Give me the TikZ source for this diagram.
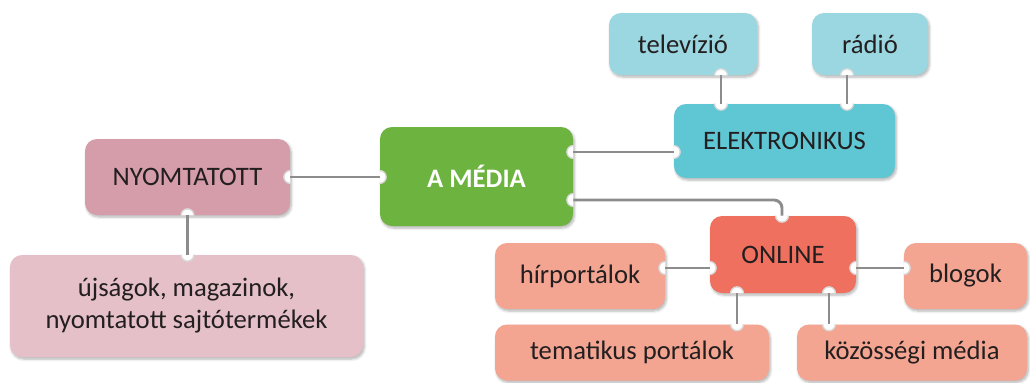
\documentclass[tikz,border=0pt]{standalone}
\usepackage{fontspec}
\setmainfont{Carlito}
\usetikzlibrary{calc,shadows.blur}
\definecolor{txt}{HTML}{231F20}
\definecolor{cgreen}{HTML}{6DB33F}
\definecolor{celek}{HTML}{5FC6D3}
\definecolor{celekl}{HTML}{9BD7E1}
\definecolor{cnyom}{HTML}{D59CAA}
\definecolor{cnyoml}{HTML}{E5C0C8}
\definecolor{conl}{HTML}{EF705F}
\definecolor{conll}{HTML}{F4A592}
\definecolor{cline}{HTML}{8C8C8C}
\newcommand\mynotch[2]{%
  \begin{scope}
    \clip[rounded corners=9pt] (#1.south west) rectangle (#1.north east);
    \fill[white, draw=black!15, line width=1pt] (#2) circle[radius=4.8pt];
  \end{scope}}
\begin{document}
\begin{tikzpicture}[x=0.75pt,y=-0.75pt,
  box/.style 2 args={rectangle, rounded corners=9pt, inner sep=0pt,
    minimum width=#1*0.75pt, minimum height=#2*0.75pt, text=txt,
    font=\fontsize{20}{24}\selectfont, align=center,
    blur shadow={shadow xshift=1pt, shadow yshift=-1.5pt, shadow blur steps=6, shadow opacity=30}},
  conn/.style={draw=cline, line width=2.2pt}]
\useasboundingbox (0,0) rectangle (1030,382);
% boxes
\node[box={193}{99}, fill=cgreen, text=white, font=\fontsize{20}{24}\selectfont\bfseries] (media) at (476.5,176.5) {A MÉDIA};
\node[box={221}{74}, fill=celek] (elek) at (784.5,141) {ELEKTRONIKUS};
\node[box={148}{62}, fill=celekl] (tv) at (683,44) {televízió};
\node[box={116}{62}, fill=celekl] (radio) at (870,44) {rádió};
\node[box={205}{76}, fill=cnyom] (nyom) at (187.5,177) {NYOMTATOTT};
\node[box={353}{102}, fill=cnyoml] (ujs) at (186.5,306) {újságok, magazinok,\\nyomtatott sajtótermékek};
\node[box={146}{77}, fill=conl] (online) at (783,254.5) {ONLINE};
\node[box={170}{66}, fill=conll] (hir) at (580,276) {hírportálok};
\node[box={123}{66}, fill=conll] (blog) at (965.5,276) {blogok};
\node[box={274}{56}, fill=conll] (tema) at (632,352.5) {tematikus portálok};
\node[box={230}{56}, fill=conll] (koz) at (912,352.5) {közösségi média};
% connection points
\coordinate (m1) at ($(media.east)+(0,-24.5)$);
\coordinate (m2) at ($(media.east)+(0,23.5)$);
\coordinate (e1) at (m1 -| elek.west);
\coordinate (o0) at ($(online.north)+(-1,0)$);
\coordinate (mc) at (m2 -| o0);
\coordinate (t1) at ($(tv.south)+(38,0)$);
\coordinate (e2) at (t1 |- elek.north);
\coordinate (r1) at ($(radio.south)+(-23,0)$);
\coordinate (e3) at (r1 |- elek.north);
\coordinate (n1) at (nyom.south);
\coordinate (u1) at (n1 |- ujs.north);
\coordinate (ol) at ($(online.west)+(0,13.5)$);
\coordinate (hr) at (ol -| hir.east);
\coordinate (orr) at ($(online.east)+(0,13.5)$);
\coordinate (bl) at (orr -| blog.west);
\coordinate (ob1) at ($(online.south)+(-46,0)$);
\coordinate (tt) at (ob1 |- tema.north);
\coordinate (ob2) at ($(online.south)+(46,0)$);
\coordinate (kt) at (ob2 |- koz.north);
\coordinate (nr) at (nyom.east);
\coordinate (ml) at (nr -| media.west);
% notches
\mynotch{media}{m1}\mynotch{media}{m2}\mynotch{media}{ml}
\mynotch{elek}{e1}\mynotch{elek}{e2}\mynotch{elek}{e3}
\mynotch{tv}{t1}\mynotch{radio}{r1}
\mynotch{nyom}{nr}\mynotch{nyom}{n1}\mynotch{ujs}{u1}
\mynotch{online}{o0}\mynotch{online}{ol}\mynotch{online}{orr}\mynotch{online}{ob1}\mynotch{online}{ob2}
\mynotch{hir}{hr}\mynotch{blog}{bl}\mynotch{tema}{tt}\mynotch{koz}{kt}
% connectors
\draw[conn] (nr) -- (ml);
\draw[conn] (m1) -- (e1);
\draw[conn, rounded corners=6pt] (m2) -- (mc) -- (o0);
\draw[conn] (t1) -- (e2);
\draw[conn] (r1) -- (e3);
\draw[conn] (n1) -- (u1);
\draw[conn] (hr) -- (ol);
\draw[conn] (orr) -- (bl);
\draw[conn] (ob1) -- (tt);
\draw[conn] (ob2) -- (kt);
\end{tikzpicture}
\end{document}
